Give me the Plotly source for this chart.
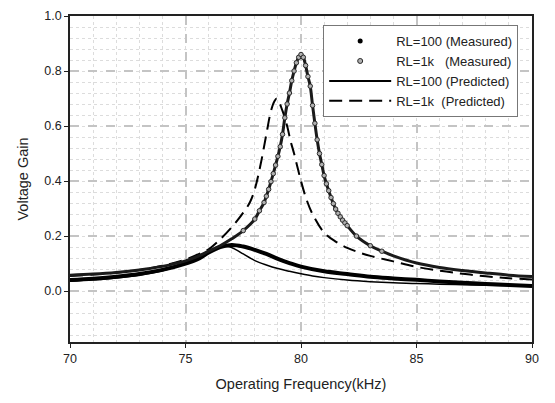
import plotly.graph_objects as go

# ---- data ----
freq_1k_meas = [70, 71, 72, 73, 74, 75, 75.5, 76, 76.5, 77, 77.5, 78, 78.2, 78.4,
                78.5, 78.6, 78.7, 78.8, 78.9, 79.0, 79.1, 79.2, 79.3, 79.4, 79.5,
                79.6, 79.7, 79.8, 79.9, 80.0, 80.1, 80.2, 80.3, 80.4, 80.5, 80.6,
                80.7, 80.8, 80.9, 81.0, 81.1, 81.2, 81.3, 81.4, 81.5, 81.6, 81.7,
                81.8, 81.9, 82.0, 82.4, 83, 83.5, 84, 85, 86, 87, 88, 89, 90]
gain_1k_meas = [0.058, 0.062, 0.068, 0.077, 0.090, 0.110, 0.125, 0.145, 0.165, 0.190,
                0.220, 0.262, 0.292, 0.322, 0.345, 0.370, 0.398, 0.427, 0.458, 0.490,
                0.525, 0.570, 0.630, 0.680, 0.720, 0.765, 0.800, 0.830, 0.850, 0.860,
                0.850, 0.820, 0.780, 0.745, 0.675, 0.610, 0.550, 0.500, 0.460, 0.420,
                0.390, 0.365, 0.340, 0.318, 0.298, 0.283, 0.270, 0.258, 0.248, 0.238,
                0.200, 0.165, 0.145, 0.128, 0.102, 0.086, 0.075, 0.066, 0.058, 0.053]

freq_1k_pred = [70, 71, 72, 73, 74, 75, 75.5, 76, 76.4, 77, 77.5, 77.8, 78.0, 78.25,
                78.5, 78.7, 78.85, 78.95, 79.2, 79.4, 79.55, 79.7, 80.0, 80.25, 80.5,
                81, 81.5, 82, 82.5, 83, 84, 85, 86, 87, 88, 89, 90]
gain_1k_pred = [0.055, 0.060, 0.067, 0.077, 0.092, 0.115, 0.132, 0.152, 0.180, 0.232,
                0.285, 0.325, 0.370, 0.460, 0.570, 0.655, 0.690, 0.700, 0.655, 0.600,
                0.545, 0.500, 0.400, 0.330, 0.280, 0.213, 0.180, 0.157, 0.141, 0.128,
                0.108, 0.088, 0.074, 0.063, 0.054, 0.047, 0.042]

freq_100_meas = [70, 71, 72, 73, 74, 75, 75.5, 76, 76.5, 77, 77.5, 78, 78.5, 79, 79.5,
                 80, 81, 82, 83, 84, 85, 86, 87, 88, 89, 90]
gain_100_meas = [0.040, 0.045, 0.052, 0.062, 0.077, 0.100, 0.115, 0.140, 0.160, 0.168,
                 0.162, 0.150, 0.135, 0.117, 0.102, 0.089, 0.072, 0.062, 0.052, 0.046,
                 0.041, 0.035, 0.030, 0.026, 0.022, 0.019]

freq_100_pred = [70, 71, 72, 73, 74, 75, 75.5, 76, 76.5, 76.85, 77.2, 77.5, 78, 78.5,
                 79, 79.5, 80, 80.5, 81, 82, 83, 84, 85, 86, 87, 88, 89, 90]
gain_100_pred = [0.036, 0.041, 0.048, 0.058, 0.074, 0.098, 0.115, 0.140, 0.158, 0.162,
                 0.150, 0.135, 0.111, 0.095, 0.082, 0.072, 0.063, 0.055, 0.049, 0.040,
                 0.034, 0.030, 0.028, 0.025, 0.023, 0.021, 0.020, 0.019]

legend_names = ["RL=100 (Measured)", "RL=1k\u00a0\u00a0\u00a0(Measured)",
                "RL=100 (Predicted)", "RL=1k\u00a0\u00a0(Predicted)"]

x_ticks = [70, 75, 80, 85, 90]
y_ticks = [0.0, 0.2, 0.4, 0.6, 0.8, 1.0]
y_tick_text = ["0.0", "0.2", "0.4", "0.6", "0.8", "1.0"]

FONT = "Liberation Sans, Arial, sans-serif"
DASH = "13px,7px"

# markers of the 1k measured series shown where they stand apart in the reference
mk_pairs = [(f, g) for f, g in zip(freq_1k_meas, gain_1k_meas) if 77.5 <= f <= 83.5]
mk_x = [p[0] for p in mk_pairs]
mk_y = [p[1] for p in mk_pairs]

fig = go.Figure()

fig.add_trace(go.Scatter(x=freq_100_pred, y=gain_100_pred, mode="lines",
                         line=dict(color="black", width=1.5, shape="spline"),
                         showlegend=False, hoverinfo="skip"))
fig.add_trace(go.Scatter(x=freq_1k_pred, y=gain_1k_pred, mode="lines",
                         line=dict(color="black", width=2, shape="spline", dash=DASH),
                         showlegend=False, hoverinfo="skip"))
fig.add_trace(go.Scatter(x=freq_100_meas, y=gain_100_meas, mode="lines",
                         line=dict(color="black", width=4, shape="spline"),
                         showlegend=False, hoverinfo="skip"))
fig.add_trace(go.Scatter(x=freq_1k_meas, y=gain_1k_meas, mode="lines",
                         line=dict(color="#1a1a1a", width=3, shape="spline"),
                         showlegend=False, hoverinfo="skip"))
fig.add_trace(go.Scatter(x=mk_x, y=mk_y, mode="markers",
                         marker=dict(symbol="circle", size=4.5, color="#b0b0b0",
                                     line=dict(color="#2a2a2a", width=1)),
                         showlegend=False, hoverinfo="skip"))

fig.add_trace(go.Scatter(x=[None], y=[None], mode="markers", name=legend_names[0],
                         marker=dict(symbol="circle", size=5, color="black")))
fig.add_trace(go.Scatter(x=[None], y=[None], mode="markers", name=legend_names[1],
                         marker=dict(symbol="circle", size=5, color="#b0b0b0",
                                     line=dict(color="#2a2a2a", width=1))))
fig.add_trace(go.Scatter(x=[None], y=[None], mode="lines", name=legend_names[2],
                         line=dict(color="black", width=2)))
fig.add_trace(go.Scatter(x=[None], y=[None], mode="lines", name=legend_names[3],
                         line=dict(color="black", width=2, dash=DASH)))

axis_common = dict(
    showline=True, linecolor="#222222", linewidth=1.5, mirror=True,
    ticks="outside", ticklen=4, tickcolor="#222222", tickwidth=1,
    showgrid=True, gridcolor="#c4c4c4", gridwidth=1.5, griddash="dash",
    zeroline=False,
    tickfont=dict(family=FONT, size=12.5, color="#222222"),
)

fig.update_layout(
    width=555, height=403,
    margin=dict(l=70, r=23, t=9, b=61),
    paper_bgcolor="white", plot_bgcolor="white",
    font=dict(family=FONT, size=12, color="#222222"),
    xaxis=dict(range=[70, 90], tickvals=x_ticks,
               title=dict(text="Operating Frequency(kHz)", font=dict(size=14.5), standoff=14),
               minor=dict(dtick=1, showgrid=True, gridcolor="#dcdcdc", griddash="dot",
                          gridwidth=1, ticks=""),
               **axis_common),
    yaxis=dict(range=[-0.185, 1.0], tickvals=y_ticks, ticktext=y_tick_text,
               title=dict(text="Voltage Gain", font=dict(size=14.5), standoff=12),
               minor=dict(tick0=0, dtick=0.04, showgrid=True, gridcolor="#dcdcdc",
                          griddash="dot", gridwidth=1, ticks=""),
               **axis_common),
    legend=dict(x=0.548, y=0.972, xanchor="left", yanchor="top",
                bgcolor="white", bordercolor="#777777", borderwidth=1,
                font=dict(family=FONT, size=13, color="#222222"),
                itemwidth=62, tracegroupgap=0),
    showlegend=True,
)

fig.write_html("out.html")
